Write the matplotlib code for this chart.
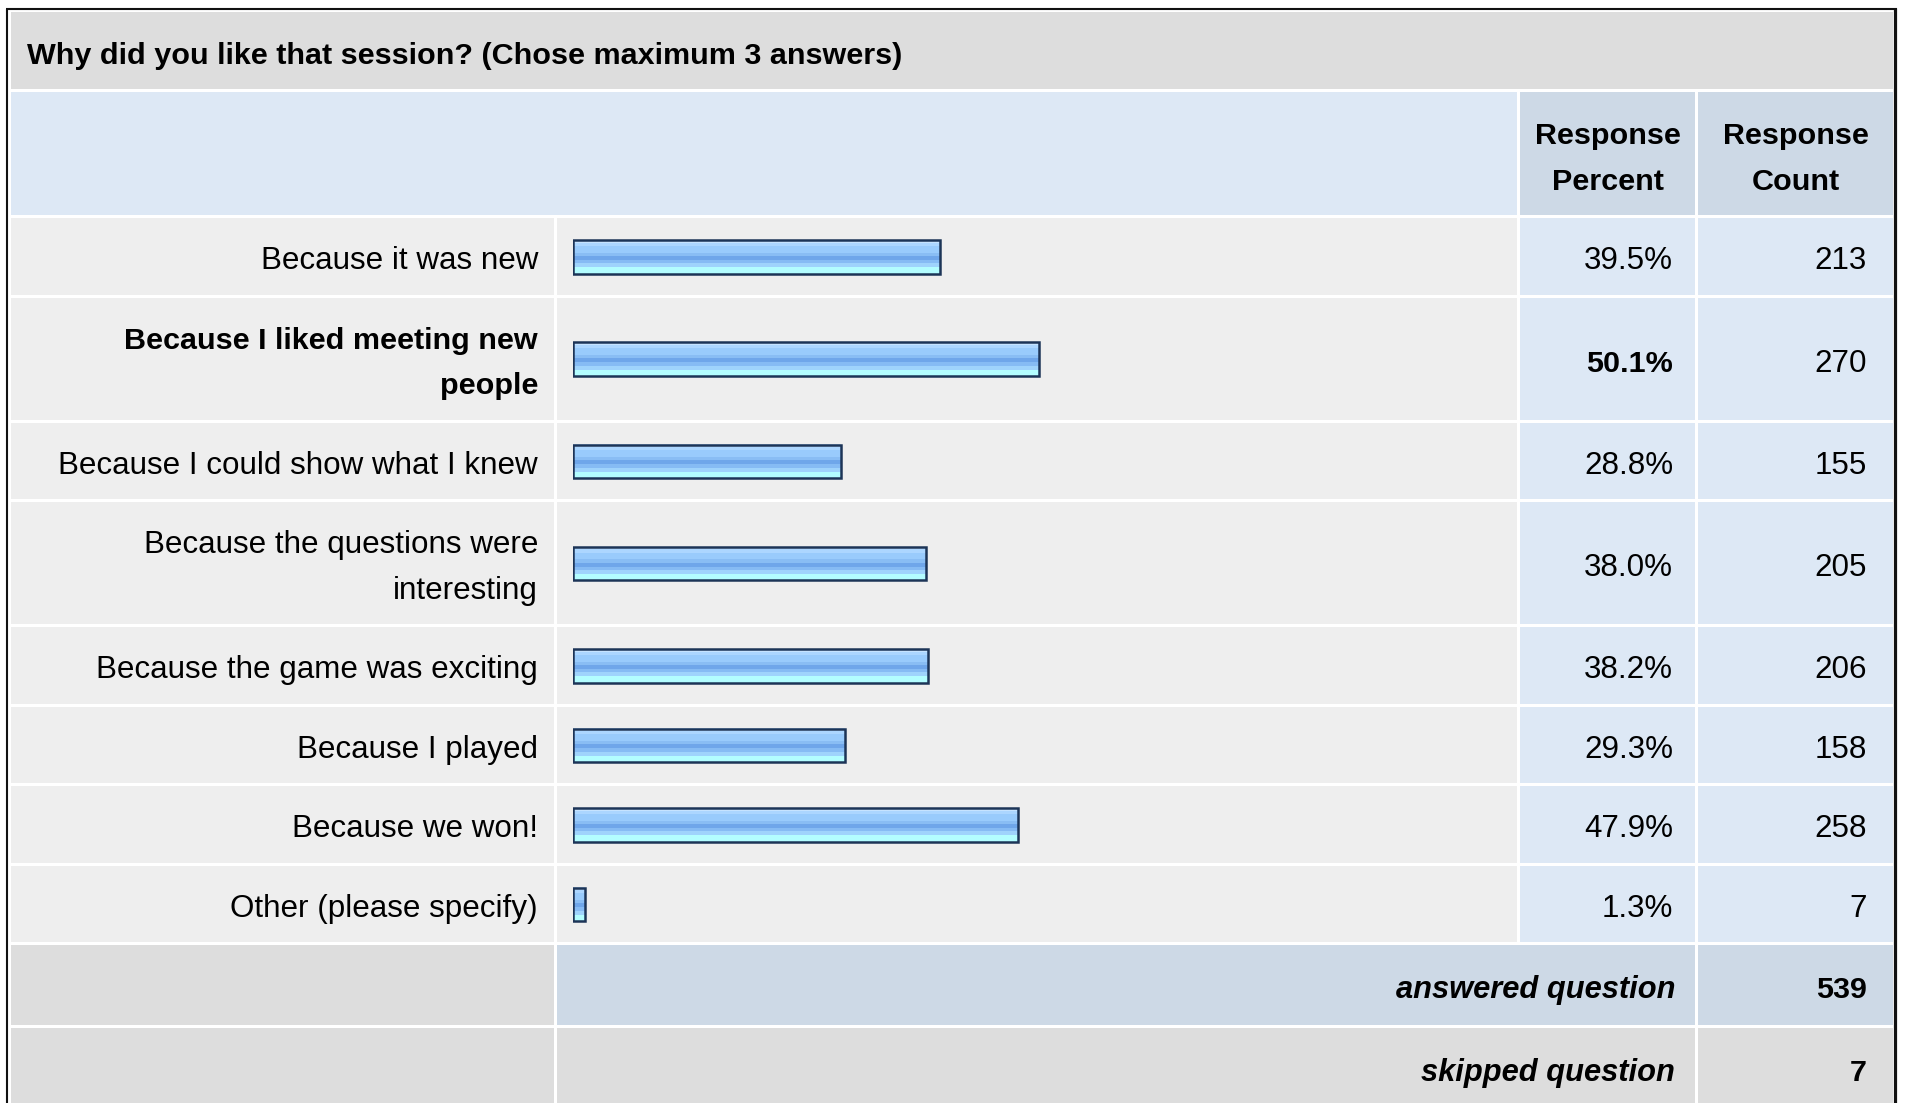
import matplotlib
matplotlib.use("Agg")
import matplotlib.pyplot as plt
from matplotlib.patches import Rectangle
import numpy as np

# ---------------- data ----------------
title = "Why did you like that session? (Chose maximum 3 answers)"
categories = [
    "Because it was new",
    "Because I liked meeting new\npeople",
    "Because I could show what I knew",
    "Because the questions were\ninteresting",
    "Because the game was exciting",
    "Because I played",
    "Because we won!",
    "Other (please specify)",
]
percents = [39.5, 50.1, 28.8, 38.0, 38.2, 29.3, 47.9, 1.3]
counts = [213, 270, 155, 205, 206, 158, 258, 7]
col_headers = ["Response\nPercent", "Response\nCount"]
summary_labels = ["answered question", "skipped question"]
summary_values = [539, 7]

# ---------------- style ----------------
plt.rcParams['font.family'] = ['Liberation Sans', 'DejaVu Sans']
W, H = 1907, 1103
FS = 22.6      # regular text
FSB = 21.95    # bold text
FSBI = 22.2    # bold italic text
C_TITLE = '#dddddd'
C_HEAD = '#dde8f5'
C_HEAD2 = '#cdd9e6'
C_ROW = '#eeeeee'
C_ROWV = '#dde8f5'
C_SKIP = '#dddddd'
TXT = '#000000'

fig = plt.figure(figsize=(W / 100, H / 100), dpi=100)
fig.patch.set_facecolor('white')
ax = fig.add_axes([0, 0, 1, 1])
ax.set_xlim(0, W)
ax.set_ylim(H, 0)
ax.axis('off')

# column separator centres
xl, xb, xp, xc, xr = 9.5, 555.5, 1518.5, 1696.0, 1894.5
g = 1.5  # half gap

def cell(x0, x1, y0, y1, color):
    ax.add_patch(Rectangle((x0 + g, y0 + g), (x1 - x0) - 2 * g, (y1 - y0) - 2 * g,
                           facecolor=color, edgecolor='none', zorder=1))

# title band
y_title0, y_title1 = 10.5, 90.5
cell(xl, xr, y_title0, y_title1, C_TITLE)
ax.text(27, 64, title, ha='left', va='baseline', fontsize=FSB, fontweight='bold', color=TXT, zorder=3)

# header band
y_h0, y_h1 = 90.5, 216.5
cell(xl, xp, y_h0, y_h1, C_HEAD)
cell(xp, xc, y_h0, y_h1, C_HEAD2)
cell(xc, xr, y_h0, y_h1, C_HEAD2)
for (a, b), hdr in zip([(xp, xc), (xc, xr)], col_headers):
    for k, line in enumerate(hdr.split('\n')):
        ax.text((a + b) / 2 + 1, 143.5 + 46 * k, line, ha='center', va='baseline',
                fontsize=FSB, fontweight='bold', color=TXT, zorder=3)

# body rows
best = int(np.argmax(percents))
y = y_h1
row_centers = []
for i, (lab, p, c) in enumerate(zip(categories, percents, counts)):
    lines = lab.split('\n')
    h = 79.5 if len(lines) == 1 else 125.0
    y0, y1 = y, y + h
    cen = (y0 + y1) / 2
    row_centers.append(cen)
    cell(xl, xb, y0, y1, C_ROW)
    cell(xb, xp, y0, y1, C_ROW)
    cell(xp, xc, y0, y1, C_ROWV)
    cell(xc, xr, y0, y1, C_ROWV)
    isb = (i == best)
    wt = 'bold' if isb else 'normal'
    fs = FSB if isb else FS
    if len(lines) == 1:
        ax.text(538, cen + 13, lines[0], ha='right', va='baseline', fontsize=fs,
                fontweight=wt, color=TXT, zorder=3)
    else:
        for k, line in enumerate(lines):
            ax.text(538, cen - 9.5 + 45.5 * k, line, ha='right', va='baseline', fontsize=fs,
                    fontweight=wt, color=TXT, zorder=3)
    ax.text(1673, cen + 13, f"{p:.1f}%", ha='right', va='baseline', fontsize=fs,
            fontweight=wt, color=TXT, zorder=3)
    ax.text(1867, cen + 13, f"{c}", ha='right', va='baseline', fontsize=FS,
            color=TXT, zorder=3)
    y = y1

# summary rows
for j, (lab, v) in enumerate(zip(summary_labels, summary_values)):
    h = 82.5 if j == 0 else 100.0
    y0, y1 = y, y + h
    cen = y0 + 41.25
    mid_col = C_HEAD2 if j == 0 else C_SKIP
    cell(xl, xb, y0, y1, C_SKIP)
    cell(xb, xc, y0, y1, mid_col)
    cell(xc, xr, y0, y1, mid_col)
    ax.text(1675, cen + 13.5, lab, ha='right', va='baseline', fontsize=FSBI,
            fontweight='bold', fontstyle='italic', color=TXT, zorder=3)
    ax.text(1867, cen + 13.5, f"{v}", ha='right', va='baseline', fontsize=FSB,
            fontweight='bold', color=TXT, zorder=3)
    y = y1

# outer black border
ax.plot([7, 7], [9, H + 5], color='#111111', lw=1.5, solid_capstyle='butt', zorder=5)
ax.plot([6, 1897], [9, 9], color='#111111', lw=1.5, solid_capstyle='butt', zorder=5)
ax.plot([1895.3, 1895.3], [8, H + 5], color='#111111', lw=2.3, solid_capstyle='butt', zorder=5)

# ---------------- bars (percent scale) ----------------
bar_x0, px_per_pct = 573.0, 9.3
bx = fig.add_axes([bar_x0 / W, 0, 100 * px_per_pct / W, 1])
bx.set_xlim(0, 100)
bx.set_ylim(H, 0)
bx.axis('off')
bx.patch.set_alpha(0)

bh = 33.5
stripes = [(0.00, 0.08, '#c6e3ff'), (0.08, 0.18, '#acd6ff'), (0.18, 0.38, '#99cbfc'),
           (0.38, 0.48, '#89bdf4'), (0.48, 0.60, '#6fa6ea'), (0.60, 0.70, '#86bbf4'),
           (0.70, 0.82, '#9fd3fc'), (0.82, 1.00, '#b3fdff')]
bar_centers = [c + 0.5 for c in row_centers]
for (f0, f1, col) in stripes:
    ys = [bc - bh / 2 + (f0 + f1) / 2 * bh for bc in bar_centers]
    bx.barh(ys, percents, height=(f1 - f0) * bh + 0.3, left=0, color=col,
            edgecolor='none', zorder=2)
bx.barh(bar_centers, percents, height=bh, left=0, fill=False,
        edgecolor='#1c3457', linewidth=1.8, zorder=3)

fig.savefig('out.png', dpi=100)
